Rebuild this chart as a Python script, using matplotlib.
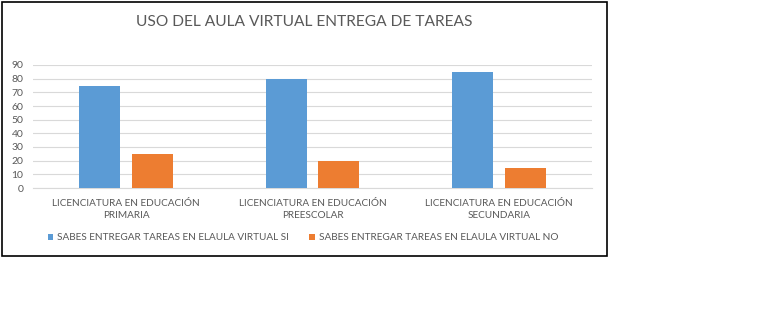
import matplotlib.pyplot as plt
import matplotlib.patches as patches
import numpy as np

# Data
categorias = ["LICENCIATURA EN EDUCACIÓN\nPRIMARIA",
              "LICENCIATURA EN EDUCACIÓN\nPREESCOLAR",
              "LICENCIATURA EN EDUCACIÓN\nSECUNDARIA"]
si = [75, 80, 85]
no = [25, 20, 15]
etiquetas = ["SABES ENTREGAR TAREAS EN ELAULA VIRTUAL SI",
             "SABES ENTREGAR TAREAS EN ELAULA VIRTUAL NO"]
titulo = "USO DEL AULA VIRTUAL ENTREGA DE TAREAS"

azul = "#5B9BD5"
naranja = "#ED7D31"
gris = "#595959"

plt.rcParams['font.family'] = ['Lato', 'DejaVu Sans']

fig = plt.figure(figsize=(7.68, 3.35), dpi=100)
ax = fig.add_axes([33 / 768, 1 - 188 / 335, 559 / 768, 123 / 335])

x = np.arange(len(categorias))
ancho = 0.22
sep = 0.142
ax.bar(x - sep, si, ancho, color=azul, label=etiquetas[0], zorder=3)
ax.bar(x + sep, no, ancho, color=naranja, label=etiquetas[1], zorder=3)

ax.set_xlim(-0.5, 2.5)
ax.set_ylim(0, 90)
ax.set_yticks(range(0, 91, 10))
ax.set_xticks(x)
ax.set_xticklabels(categorias, fontsize=7.2, color=gris, linespacing=1.45)
ax.tick_params(axis='y', labelsize=7.5, colors=gris, length=0, pad=7)
ax.tick_params(axis='x', length=0, pad=8)
ax.grid(axis='y', color='#d9d9d9', linewidth=0.8, zorder=0)
for s in ['top', 'right', 'left']:
    ax.spines[s].set_visible(False)
ax.spines['bottom'].set_color('#d9d9d9')

fig.text(304 / 768, 1 - 22 / 335, titulo, ha='center', va='center',
         fontsize=11.2, color=gris)

fig.legend(loc='center', bbox_to_anchor=(303 / 768, 1 - 238 / 335), ncol=2,
           frameon=False, fontsize=7.2, labelcolor=gris, handlelength=0.55,
           handleheight=0.55, handletextpad=0.4, columnspacing=2.0)

# marco
fig.patches.append(patches.Rectangle((2 / 768, 1 - 256 / 335), 605 / 768, 254 / 335,
                                     transform=fig.transFigure, fill=False,
                                     edgecolor='black', linewidth=1.2))

fig.savefig("out.png", dpi=100)
